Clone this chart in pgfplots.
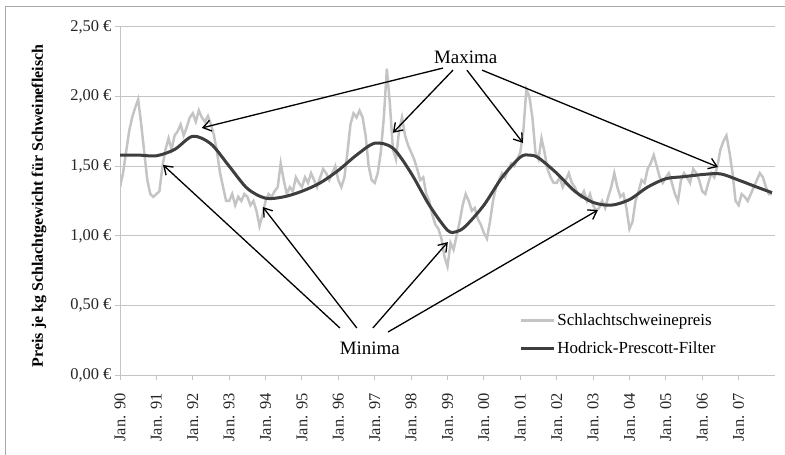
\documentclass[border=0pt]{standalone}
\usepackage{pgfplots}
\pgfplotsset{compat=1.18}
\usepackage{pgfplotstable}
\usepackage{fontspec}
\setmainfont{Liberation Serif}
\usetikzlibrary{arrows.meta}

\definecolor{pricegray}{RGB}{196,196,196}
\definecolor{hpgray}{RGB}{62,62,62}
\definecolor{gridgray}{RGB}{196,196,196}
\definecolor{framegray}{RGB}{170,170,170}

% monthly pig price, month 0 = Jan. 90
\pgfplotstableread{
m p
0 1.35
1 1.45
2 1.60
3 1.75
4 1.85
5 1.92
6 1.98
7 1.80
8 1.60
9 1.40
10 1.30
11 1.28
12 1.30
13 1.32
14 1.50
15 1.62
16 1.70
17 1.62
18 1.72
19 1.75
20 1.80
21 1.72
22 1.78
23 1.85
24 1.88
25 1.82
26 1.90
27 1.85
28 1.82
29 1.86
30 1.80
31 1.72
32 1.60
33 1.45
34 1.35
35 1.25
36 1.25
37 1.30
38 1.22
39 1.28
40 1.25
41 1.30
42 1.28
43 1.22
44 1.25
45 1.18
46 1.07
47 1.15
48 1.25
49 1.30
50 1.28
51 1.32
52 1.35
53 1.52
54 1.40
55 1.30
56 1.35
57 1.32
58 1.42
59 1.38
60 1.35
61 1.42
62 1.38
63 1.45
64 1.40
65 1.35
66 1.42
67 1.48
68 1.45
69 1.40
70 1.45
71 1.50
72 1.40
73 1.35
74 1.42
75 1.60
76 1.80
77 1.88
78 1.85
79 1.90
80 1.85
81 1.72
82 1.50
83 1.40
84 1.38
85 1.45
86 1.60
87 1.85
88 2.20
89 1.95
90 1.62
91 1.55
92 1.75
93 1.85
94 1.72
95 1.65
96 1.60
97 1.55
98 1.48
99 1.40
100 1.42
101 1.30
102 1.25
103 1.15
104 1.08
105 1.05
106 0.98
107 0.85
108 0.78
109 0.95
110 0.90
111 1.00
112 1.10
113 1.22
114 1.30
115 1.25
116 1.18
117 1.20
118 1.12
119 1.08
120 1.02
121 0.98
122 1.10
123 1.25
124 1.35
125 1.40
126 1.45
127 1.42
128 1.48
129 1.52
130 1.50
131 1.55
132 1.60
133 1.75
134 2.05
135 2.00
136 1.85
137 1.60
138 1.55
139 1.70
140 1.60
141 1.48
142 1.42
143 1.38
144 1.38
145 1.42
146 1.35
147 1.40
148 1.45
149 1.38
150 1.35
151 1.30
152 1.28
153 1.32
154 1.25
155 1.30
156 1.22
157 1.18
158 1.20
159 1.25
160 1.20
161 1.28
162 1.35
163 1.45
164 1.35
165 1.28
166 1.30
167 1.20
168 1.05
169 1.10
170 1.25
171 1.32
172 1.40
173 1.38
174 1.48
175 1.52
176 1.58
177 1.50
178 1.42
179 1.38
180 1.42
181 1.45
182 1.38
183 1.30
184 1.25
185 1.40
186 1.45
187 1.42
188 1.38
189 1.48
190 1.45
191 1.40
192 1.32
193 1.30
194 1.38
195 1.45
196 1.42
197 1.50
198 1.62
199 1.68
200 1.72
201 1.60
202 1.45
203 1.25
204 1.22
205 1.30
206 1.28
207 1.25
208 1.30
209 1.35
210 1.40
211 1.45
212 1.42
213 1.35
214 1.30
215 1.30
}\pricetable

% Hodrick-Prescott trend
\pgfplotstableread{
m hp
0 1.58
6 1.58
12 1.575
18 1.62
24 1.715
30 1.66
36 1.50
42 1.34
48 1.27
54 1.28
60 1.32
66 1.38
72 1.47
78 1.58
84 1.665
90 1.63
96 1.45
102 1.22
108 1.04
111 1.03
114 1.07
120 1.22
126 1.42
132 1.565
135 1.58
138 1.56
144 1.45
150 1.32
156 1.24
162 1.22
168 1.26
174 1.35
180 1.41
186 1.425
192 1.44
198 1.445
204 1.40
210 1.35
215 1.31
}\hptable

\begin{document}
\begin{tikzpicture}
\useasboundingbox (0,0) rectangle (785bp,455bp);
\draw[framegray, line width=1bp] (5bp,-10bp) rectangle (800bp,448bp);
\begin{axis}[
    at={(120bp,80bp)}, anchor=south west,
    scale only axis,
    width=655bp, height=348bp,
    xmin=0, xmax=216,
    ymin=0, ymax=2.5,
    axis lines*=left,
    axis line style={gridgray, line width=1bp},
    ymajorgrids,
    grid style={gridgray, line width=1bp},
    tick style={gridgray, line width=1bp},
    tick align=outside,
    major tick length=5bp,
    xtick={0,12,...,204},
    xticklabels={Jan. 90, Jan. 91, Jan. 92, Jan. 93, Jan. 94, Jan. 95, Jan. 96, Jan. 97, Jan. 98, Jan. 99, Jan. 00, Jan. 01, Jan. 02, Jan. 03, Jan. 04, Jan. 05, Jan. 06, Jan. 07},
    xticklabel shift=10bp,
    xticklabel style={rotate=90, anchor=east, font=\fontsize{16.5}{18}\selectfont, text=black!85},
    ytick={0,0.5,1,1.5,2,2.5},
    yticklabels={{0,00 €},{0,50 €},{1,00 €},{1,50 €},{2,00 €},{2,50 €}},
    yticklabel style={font=\fontsize{16.5}{18}\selectfont, text=black!85},
    ylabel={Preis je kg Schlachtgewicht für Schweinefleisch},
    ylabel style={at={(axis description cs:-0.1237,0.486)}, anchor=center, font=\bfseries\fontsize{16}{18}\selectfont},
    legend style={draw=none, fill=none, at={(0.605,0.116)}, anchor=west,
        font=\fontsize{17}{19}\selectfont, row sep=11bp},
    legend cell align=left,
    legend image code/.code={\draw[#1] (0bp,0bp) -- (33bp,0bp);},
]
\addplot[pricegray, line width=2.5bp] table[x=m, y=p] {\pricetable};
\addlegendentry{Schlachtschweinepreis}
\addplot[hpgray, line width=3bp, smooth] table[x=m, y=hp] {\hptable};
\addlegendentry{Hodrick-Prescott-Filter}

\node[font=\fontsize{19}{21}\selectfont] at (axis cs:114,2.28) {Maxima};
\node[font=\fontsize{19}{21}\selectfont] at (axis cs:82.4,0.194) {Minima};
\begin{scope}[black, line width=1.3bp, -{Straight Barb[length=8bp, width=11bp]}]
\draw (axis cs:106.5,2.205) -- (axis cs:27,1.775);
\draw (axis cs:109.8,2.19) -- (axis cs:90,1.74);
\draw (axis cs:114.4,2.19) -- (axis cs:132.9,1.667);
\draw (axis cs:119.4,2.19) -- (axis cs:197.2,1.494);
\draw (axis cs:72.5,0.338) -- (axis cs:14.2,1.509);
\draw (axis cs:78.1,0.338) -- (axis cs:47.1,1.207);
\draw (axis cs:83.4,0.338) -- (axis cs:108.1,0.955);
\draw (axis cs:88.4,0.309) -- (axis cs:157.6,1.185);
\end{scope}
\end{axis}
\end{tikzpicture}
\end{document}
